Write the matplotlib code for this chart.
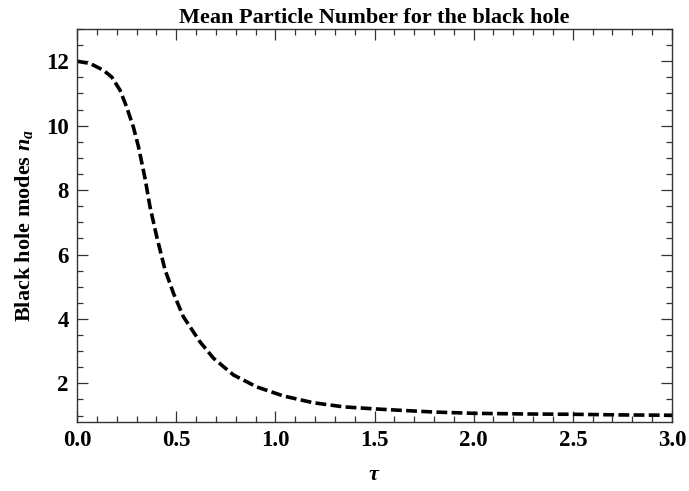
import matplotlib
matplotlib.use('Agg')
import matplotlib.pyplot as plt
from matplotlib.ticker import MultipleLocator

# values
tau = [0, 0.066, 0.133, 0.175, 0.217, 0.25, 0.284, 0.31, 0.343, 0.368,
       0.402, 0.444, 0.486, 0.536, 0.62, 0.688, 0.789, 0.906, 1.04, 1.19,
       1.345, 1.494, 1.61, 1.8, 2.0, 2.25, 2.5, 2.75, 3.0]
n_a = [12, 11.93, 11.72, 11.51, 11.1, 10.58, 9.96, 9.34, 8.36, 7.48,
       6.55, 5.52, 4.80, 4.07, 3.29, 2.78, 2.26, 1.89, 1.61, 1.40,
       1.27, 1.21, 1.17, 1.11, 1.07, 1.05, 1.04, 1.02, 1.01]
xticks = [0.0, 0.5, 1.0, 1.5, 2.0, 2.5, 3.0]
yticks = [2, 4, 6, 8, 10, 12]

plt.rcParams['font.family'] = 'Liberation Serif'
plt.rcParams['font.weight'] = 'bold'
plt.rcParams['mathtext.fontset'] = 'custom'
plt.rcParams['mathtext.rm'] = 'Liberation Serif:bold'
plt.rcParams['mathtext.it'] = 'Liberation Serif:italic:bold'

fig = plt.figure(figsize=(6.89, 4.91), dpi=100)
ax = fig.add_axes([0.1118, 0.1405, 0.8635, 0.8004])

ax.plot(tau, n_a, color='black', lw=2.6, ls=(0, (3, 1.2)), solid_capstyle='butt')

ax.set_xlim(0, 3)
ax.set_ylim(0.8, 13)
ax.set_xticks(xticks)
ax.set_yticks(yticks)
ax.set_xticklabels(['%.1f' % t for t in xticks])
ax.xaxis.set_minor_locator(MultipleLocator(0.1))
ax.yaxis.set_minor_locator(MultipleLocator(0.5))
ax.tick_params(which='both', direction='in', top=True, right=True,
               labelsize=16.5, color='#333333', width=0.9, pad=6)
ax.tick_params(which='major', length=8)
ax.tick_params(which='minor', length=4.5)
for s in ax.spines.values():
    s.set_color('#333333')
    s.set_linewidth(1.0)

ax.set_title('Mean Particle Number for the black hole', fontsize=16,
             fontweight='bold', pad=4)
ax.set_xlabel(r'$\tau$', fontsize=16, fontweight='bold', labelpad=10)
ax.set_ylabel(r'Black hole modes $n_a$', fontsize=16, fontweight='bold', labelpad=8)

fig.savefig('out.png', dpi=100)
